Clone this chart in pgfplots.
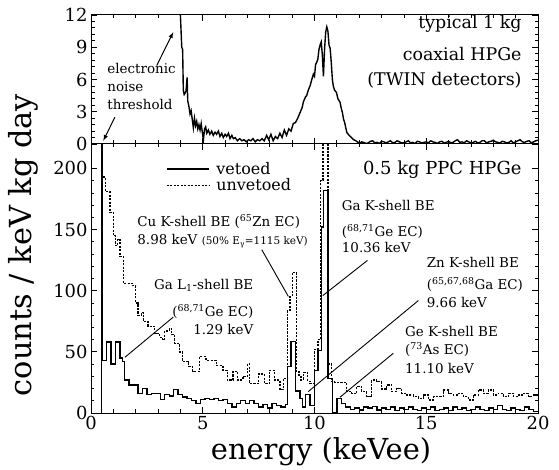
\documentclass[border=0pt]{standalone}
\usepackage{fontspec}
\setmainfont{DejaVu Serif}
\usepackage{pgfplots}
\pgfplotsset{compat=1.18}

\newcommand\af{\fontsize{13.5}{15}\selectfont}
\newcommand\tf{\fontsize{17.5}{19}\selectfont}

\pgfplotsset{
  panel/.style={
    scale only axis, width=447bp,
    xmin=0, xmax=20, xtick={0,5,10,15,20}, minor x tick num=4,
    minor y tick num=4,
    axis line style={line width=1pt},
    every tick/.style={black, line width=0.8pt},
    major tick length=6bp, minor tick length=3.5bp,
    tick label style={font=\fontsize{18}{20}\selectfont},
    /pgf/number format/assume math mode=true,
  },
  vetoed/.style={black, line width=1.4pt, const plot mark left},
  unvetoed/.style={black, line width=1.3pt, dash pattern=on 2.2pt off 1.3pt, const plot mark left},
}

\begin{document}
\begin{tikzpicture}
\useasboundingbox (-91bp,-57bp) rectangle (468bp,413bp);

% lower panel: 0.5 kg PPC
\begin{axis}[panel, at={(0,0)}, anchor=south west, height=269bp,
  ymin=0, ymax=220, ytick={0,50,100,150,200},
  legend style={at={(axis cs:3.35,207)}, anchor=north west, draw=none, fill=none,
    font=\fontsize{16}{16}\selectfont, row sep=-1bp, inner sep=0pt,
    /tikz/every odd column/.append style={column sep=5bp}},
  legend cell align=left,
  legend image code/.code={\draw[#1] (0bp,0bp) -- (42bp,0bp);},
]
\addplot[vetoed] coordinates {
(0.47,0) (0.47,400) (0.5,43) (0.7,58) (0.9,40) (1.1,58) (1.3,45) (1.4,42)
(1.5,27) (1.7,23) (1.9,23) (2.1,16) (2.3,20) (2.5,15) (2.7,16) (2.9,16)
(3.1,11) (3.3,15) (3.5,14) (3.7,19) (3.9,15) (4.1,13) (4.3,12) (4.5,10)
(4.7,8) (4.9,11) (5.1,12) (5.3,11) (5.5,12) (5.7,10) (5.9,11) (6.1,8)
(6.3,5) (6.5,8) (6.7,10) (6.9,8) (7.1,10) (7.3,8) (7.5,5) (7.7,7)
(7.9,4) (8.1,8) (8.3,6) (8.5,5) (8.7,7) (8.8,38) (8.95,58.5) (9.15,18)
(9.35,12) (9.45,5) (9.6,15) (9.8,6) (10.0,35) (10.15,51) (10.3,152) (10.4,182)
(10.6,28) (10.8,0) (11.0,12) (11.2,8) (11.4,5) (11.6,3) (11.8,4) (12.0,2.5)
(12.2,5) (12.4,4) (12.6,5.5) (12.8,2.5) (13.0,4) (13.2,3) (13.4,5) (13.6,2)
(13.8,4) (14.0,3) (14.2,5) (14.4,3) (14.6,2) (14.8,4) (15.0,3) (15.2,5)
(15.4,2) (15.6,3) (15.8,4) (16.0,2) (16.2,5) (16.4,3) (16.6,4) (16.8,2)
(17.0,3) (17.2,5) (17.4,3) (17.6,2) (17.8,4) (18.0,3) (18.2,6) (18.4,3)
(18.6,2) (18.8,4) (19.0,3) (19.2,2) (19.4,5) (19.6,3) (19.8,1) (20.0,1)
};
\addlegendentry{vetoed}
\addplot[unvetoed] coordinates {
(0.55,193) (0.65,181) (0.85,164) (1.0,145) (1.1,137) (1.2,142) (1.3,128) (1.45,106)
(1.85,104) (2.0,90) (2.1,80) (2.25,82) (2.35,75) (2.55,71) (2.85,65) (3.05,62)
(3.2,60) (3.3,67) (3.5,69) (3.6,64) (3.75,57) (3.95,50) (4.1,42) (4.35,38)
(4.55,34) (4.85,46) (5.15,43) (5.6,39) (5.9,35) (6.1,27) (6.35,34) (6.55,27)
(6.8,30) (7.0,40) (7.1,24) (7.25,24) (7.5,32) (7.75,24) (8.0,35) (8.2,27)
(8.45,19) (8.6,28) (8.8,84) (8.9,95) (9.0,115) (9.18,34) (9.3,31) (9.4,27)
(9.5,33) (9.7,26) (9.8,24) (10.0,52) (10.15,60) (10.28,190) (10.38,300) (10.6,40)
(10.75,26) (10.9,25) (11.44,17.5) (11.66,16) (11.89,21.6) (12.11,17.5) (12.33,13.4) (12.56,27)
(12.78,25.7) (13.0,19.6) (13.23,22.9) (13.45,17.5) (13.68,20.2) (13.9,16) (14.13,14.8) (14.42,13.4)
(14.65,12) (14.88,14.8) (15.1,10.7) (15.32,13.4) (15.54,13.4) (15.77,18.9) (16.0,16) (16.21,14.8)
(16.44,16) (16.66,13.4) (16.88,10.7) (17.1,14.8) (17.33,18.9) (17.55,16) (17.78,18.9) (18.0,14.8)
(18.22,16) (18.45,13.4) (18.67,16) (18.9,13.4) (19.12,14.8) (19.36,16) (19.58,13.4) (19.8,14.8)
(20.0,14.8)
};
\addlegendentry{unvetoed}

\node[anchor=base east, font=\fontsize{18}{20}\selectfont] at (axis cs:19.42,195) {0.5 kg PPC HPGe};

\node[anchor=base west, font=\af] at (axis cs:1.92,152.2) {Cu K-shell BE (\textsuperscript{65}Zn EC)};
\node[anchor=base west, font=\af] at (axis cs:1.92,137.7) {8.98 keV {\fontsize{10.5}{12}\selectfont(50\% E\textsubscript{γ}=1115 keV)}};
\draw[line width=0.9pt] (axis cs:7.64,133.6) -- (axis cs:8.83,95.3);

\node[anchor=base east, font=\af] at (axis cs:7.42,100.8) {Ga L\textsubscript{1}-shell BE};
\node[anchor=base east, font=\af] at (axis cs:7.42,79) {(\textsuperscript{68,71}Ge EC)};
\node[anchor=base east, font=\af] at (axis cs:7.42,64) {1.29 keV};
\draw[line width=0.9pt] (axis cs:3.68,78.4) -- (axis cs:1.52,45.6);

\node[anchor=base west, font=\af] at (axis cs:11.07,165.8) {Ga K-shell BE};
\node[anchor=base west, font=\af] at (axis cs:11.07,144.5) {(\textsuperscript{68,71}Ge EC)};
\node[anchor=base west, font=\af] at (axis cs:11.07,130.9) {10.36 keV};
\draw[line width=0.9pt] (axis cs:12.37,124.8) -- (axis cs:10.37,96);

\node[anchor=base west, font=\af] at (axis cs:14.87,118.6) {Zn K-shell BE};
\node[anchor=base west, font=\af] at (axis cs:14.87,100.8) {(\textsuperscript{65,67,68}Ga EC)};
\node[anchor=base west, font=\af] at (axis cs:14.87,86.3) {9.66 keV};
\draw[line width=0.9pt] (axis cs:14.65,92) -- (axis cs:9.72,17.5);

\node[anchor=base west, font=\af] at (axis cs:13.9,62.6) {Ge K-shell BE};
\node[anchor=base west, font=\af] at (axis cs:13.9,47.5) {(\textsuperscript{73}As EC)};
\node[anchor=base west, font=\af] at (axis cs:13.9,32.5) {11.10 keV};
\draw[line width=0.9pt] (axis cs:13.53,48.9) -- (axis cs:11.14,12.9);
\end{axis}

% upper panel: typical 1 kg coaxial
\begin{axis}[panel, at={(0,269bp)}, anchor=south west, height=129bp,
  ymin=0, ymax=12, ytick={0,3,6,9,12}, xticklabels={},
]
\addplot[black, line width=1.4pt] coordinates {
(3.96,14) (4.02,11) (4.06,9.0) (4.1,8.8) (4.13,5.0) (4.17,4.6) (4.2,4.7) (4.25,4.9)
(4.3,6.2) (4.33,4.0) (4.38,3.5) (4.43,2.8) (4.48,3.1) (4.53,2.3) (4.58,1.5) (4.63,2.4)
(4.68,1.7) (4.73,2.1) (4.78,1.4) (4.83,1.8) (4.88,1.3) (4.93,1.9) (4.98,1.1) (5.03,0.4)
(5.08,1.4) (5.13,1.6) (5.18,1.0) (5.25,1.3) (5.32,0.9) (5.4,1.2) (5.47,0.8) (5.55,1.1)
(5.62,0.9) (5.7,1.2) (5.77,0.7) (5.85,1.0) (5.92,0.6) (6.0,0.9) (6.07,0.7) (6.15,1.0)
(6.22,0.5) (6.3,0.8) (6.37,0.5) (6.45,0.6) (6.55,0.3) (6.65,0.5) (6.75,0.3) (6.85,0.4)
(6.95,0.2) (7.05,0.4) (7.15,0.3) (7.25,0.5) (7.35,0.2) (7.45,0.4) (7.55,0.3) (7.65,0.5)
(7.75,0.3) (7.86,0.8) (7.95,0.4) (8.05,0.9) (8.15,0.3) (8.25,0.7) (8.35,0.5) (8.45,1.0)
(8.55,0.6) (8.65,1.3) (8.75,0.8) (8.85,1.4) (8.95,1.2) (9.05,1.9) (9.15,2.0) (9.25,2.4)
(9.35,2.9) (9.45,3.4) (9.5,3.9) (9.6,4.4) (9.65,4.5) (9.72,5.0) (9.8,5.4) (9.88,6.0)
(9.95,6.5) (10.0,6.3) (10.05,7.4) (10.1,7.6) (10.15,7.9) (10.2,8.8) (10.25,9.2) (10.3,9.5)
(10.35,8.3) (10.4,6.3) (10.45,8.8) (10.5,10.4) (10.55,10.9) (10.6,10.5) (10.65,9.2) (10.7,8.9)
(10.75,7.6) (10.8,6.0) (10.84,5.4) (10.9,5.0) (10.98,4.8) (11.05,4.2) (11.14,3.9) (11.2,3.3)
(11.25,2.9) (11.3,2.3) (11.35,2.0) (11.4,1.5) (11.45,1.06) (11.55,0.8) (11.65,0.6) (11.75,0.4)
(11.85,0.3) (11.95,0.15) (12.05,0.1) (12.1,0.2) (12.2,0.15) (12.3,0.05) (12.4,0.1) (12.5,0.25)
(12.6,0.3) (12.7,0.1) (12.8,0.15) (12.9,0.05) (13.0,0.25) (13.1,0.2) (13.2,0.1) (13.3,0.2)
(13.4,0.3) (13.5,0.1) (13.6,0.15) (13.7,0.3) (13.8,0.2) (13.9,0.1) (14.0,0.1) (14.1,0.2)
(14.2,0.3) (14.3,0.1) (14.4,0.15) (14.5,0.05) (14.6,0.25) (14.7,0.2) (14.8,0.1) (14.9,0.15)
(15.0,0.2) (15.1,0.1) (15.2,0.3) (15.3,0.2) (15.4,0.15) (15.5,0.05) (15.6,0.2) (15.7,0.25)
(15.8,0.1) (15.9,0.15) (16.0,0.25) (16.1,0.1) (16.2,0.15) (16.3,0.3) (16.4,0.4) (16.5,0.15)
(16.6,0.2) (16.7,0.1) (16.8,0.3) (16.9,0.2) (17.0,0.1) (17.1,0.15) (17.2,0.25) (17.3,0.1)
(17.4,0.15) (17.5,0.3) (17.6,0.3) (17.7,0.1) (17.8,0.2) (17.9,0.25) (18.0,0.35) (18.1,0.2)
(18.2,0.15) (18.3,0.1) (18.4,0.25) (18.5,0.2) (18.6,0.1) (18.7,0.15) (18.8,0.3) (18.9,0.1)
(19.0,0.2) (19.1,0.3) (19.2,0.4) (19.3,0.2) (19.4,0.15) (19.5,0.25) (19.6,0.3) (19.7,0.1)
(19.8,0.2) (19.9,0.3) (20.0,0.35)
};
\node[anchor=base east, font=\tf] at (axis cs:19.42,10.75) {typical 1 kg};
\node[anchor=base east, font=\tf] at (axis cs:19.42,7.78) {coaxial HPGe};
\node[anchor=base east, font=\tf] at (axis cs:19.42,5.44) {(TWIN detectors)};

\node[anchor=base west, font=\af] at (axis cs:0.58,6.53) {electronic};
\node[anchor=base west, font=\af] at (axis cs:0.58,4.9) {noise};
\node[anchor=base west, font=\af] at (axis cs:0.58,3.25) {threshold};
\draw[-latex, line width=1pt] (axis cs:2.94,7.3) -- (axis cs:3.68,10.4);
\draw[-latex, line width=1pt] (axis cs:1.07,2.5) -- (axis cs:0.55,0.3);
\end{axis}

\node[anchor=base, font=\fontsize{29}{32}\selectfont] at (230bp,-46bp) {energy (keVee)};
\node[anchor=base, rotate=90, font=\fontsize{30.5}{33}\selectfont] at (-59bp,168bp) {counts / keV kg day};
\end{tikzpicture}
\end{document}
